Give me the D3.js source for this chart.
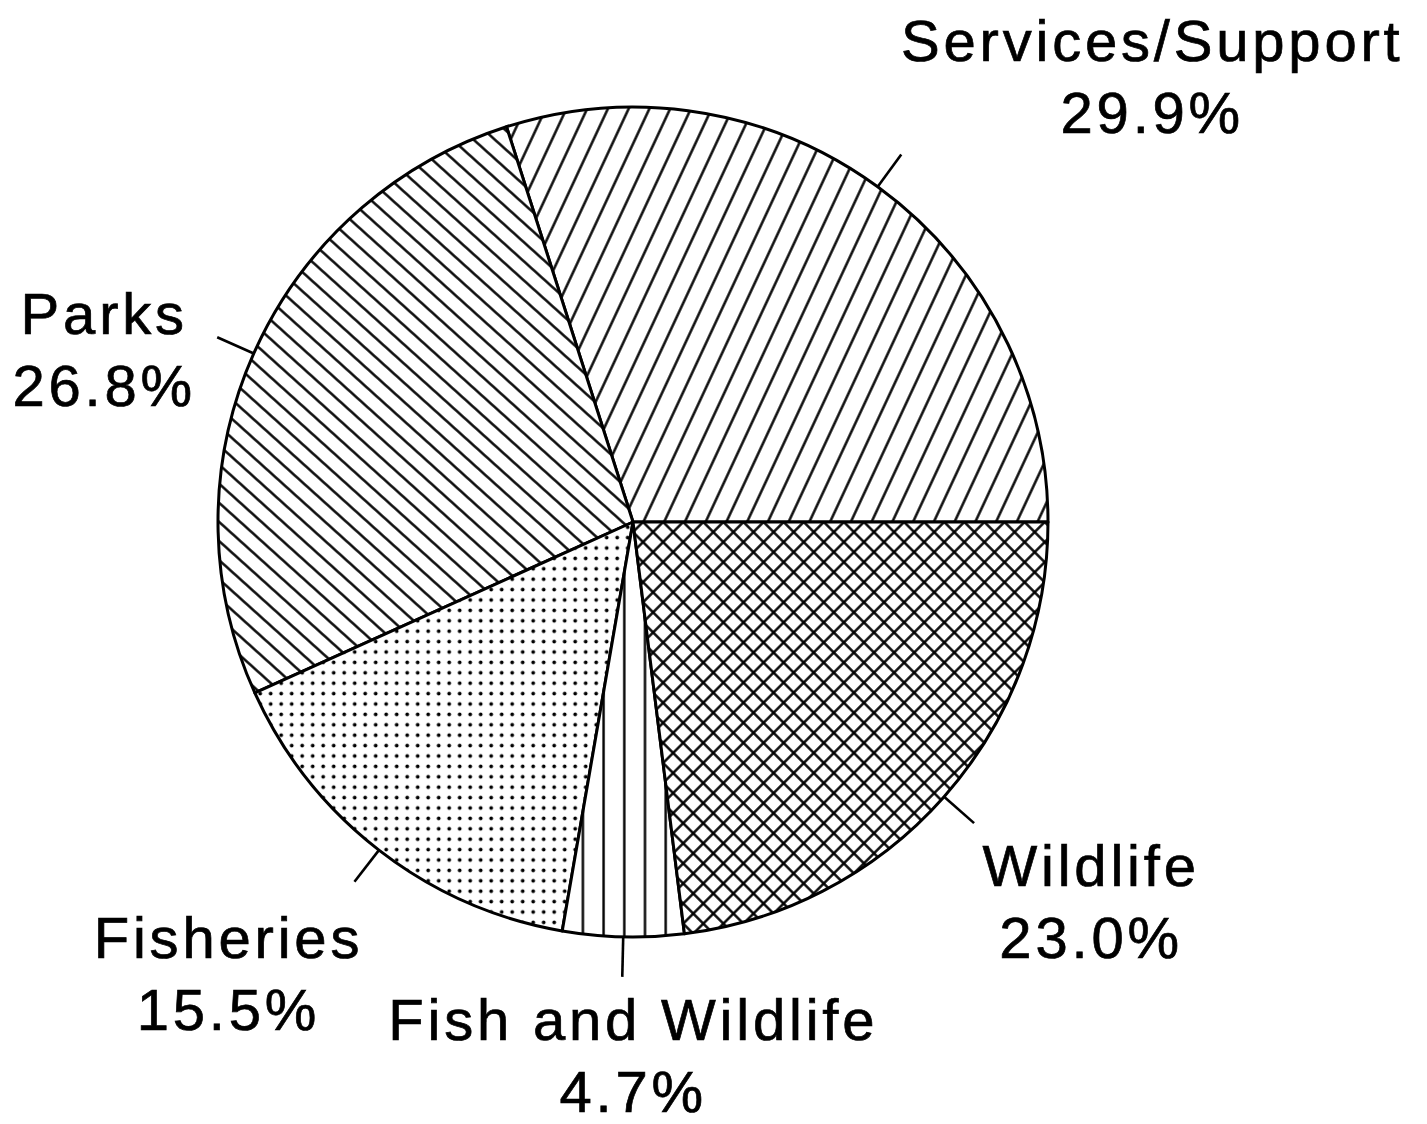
<!DOCTYPE html>
<html>
<head>
<meta charset="utf-8">
<script src="https://cdn.jsdelivr.net/npm/d3@7"></script>
<style>
  html, body { margin: 0; padding: 0; background: #fff; }
  text { font-family: "Liberation Sans", Arial, Helvetica, sans-serif; }
</style>
</head>
<body>
<svg id="pie"></svg>
<script>
// slices (counter-clockwise from 3 o'clock)
var categories = ["Services/Support", "Parks", "Fisheries", "Fish and Wildlife", "Wildlife"];
var shares = [29.9, 26.8, 15.5, 4.7, 23.0];
var shareLabels = ["29.9%", "26.8%", "15.5%", "4.7%", "23.0%"];
var fills = ["hatchUp", "hatchDown", "dots", "vlines", "cross"];

// set the dimensions of the chart
var width = 1427,
    height = 1124;
var cx = 633, cy = 522, radius = 415;
var leaderLen = 40;
// where each label sits relative to the outer end of its leader line
var labelShift = [[251, -93], [-113, -3], [-126, 76], [11, 63], [117, 63]];

var svg = d3.select("#pie")
    .attr("width", width)
    .attr("height", height);

svg.append("rect")
    .attr("width", width)
    .attr("height", height)
    .attr("fill", "#fff");

var defs = svg.append("defs");

// line hatching: a vertical line in a tile, turned by the pattern transform
function linePattern(id, spacing, angle, offsetX){
    var p = defs.append("pattern")
        .attr("id", id)
        .attr("patternUnits", "userSpaceOnUse")
        .attr("x", offsetX || 0)
        .attr("width", spacing)
        .attr("height", 20)
        .attr("patternTransform", "rotate(" + angle + ")");
    p.append("rect").attr("width", spacing).attr("height", 20).attr("fill", "#fff");
    p.append("line")
        .attr("x1", spacing / 2).attr("x2", spacing / 2)
        .attr("y1", -1).attr("y2", 21)
        .attr("stroke", "#000")
        .attr("stroke-width", 2.4);
    return p;
}

linePattern("hatchUp", 18.8, 25);
linePattern("hatchDown", 14.2, -48);
linePattern("vlines", 20.7, 0, cx - 20.7 / 2);

// cross hatching
var cross = defs.append("pattern")
    .attr("id", "cross")
    .attr("patternUnits", "userSpaceOnUse")
    .attr("width", 14.2)
    .attr("height", 14.2)
    .attr("patternTransform", "rotate(45)");
cross.append("rect").attr("width", 14.2).attr("height", 14.2).attr("fill", "#fff");
cross.append("line").attr("x1", 7.1).attr("x2", 7.1).attr("y1", -1).attr("y2", 15.2)
    .attr("stroke", "#000").attr("stroke-width", 2.4);
cross.append("line").attr("y1", 7.1).attr("y2", 7.1).attr("x1", -1).attr("x2", 15.2)
    .attr("stroke", "#000").attr("stroke-width", 2.4);

// stipple
var dots = defs.append("pattern")
    .attr("id", "dots")
    .attr("patternUnits", "userSpaceOnUse")
    .attr("width", 10.5)
    .attr("height", 10.4);
dots.append("rect").attr("width", 10.5).attr("height", 10.4).attr("fill", "#fff");
dots.append("circle").attr("cx", 5.2).attr("cy", 5.2).attr("r", 1.9).attr("fill", "#000");

var pie = d3.pie()
    .sort(null)
    .value(function(d){ return d; })
    .startAngle(Math.PI / 2)
    .endAngle(Math.PI / 2 - 2 * Math.PI);

var arcs = pie(shares);

var arc = d3.arc()
    .innerRadius(0)
    .outerRadius(radius);

var g = svg.append("g")
    .attr("transform", "translate(" + cx + "," + cy + ")");

g.selectAll(".slice")
    .data(arcs)
    .enter().append("path")
    .attr("class", "slice")
    .attr("d", arc)
    .attr("fill", function(d, i){ return "url(#" + fills[i] + ")"; })
    .attr("stroke", "#000")
    .attr("stroke-width", 3)
    .attr("stroke-linejoin", "round");

function midAngle(d){ return (d.startAngle + d.endAngle) / 2; }
function polar(a, r){ return [r * Math.sin(a), -r * Math.cos(a)]; }

// leader lines run out radially from the middle of each slice
g.selectAll(".leader")
    .data(arcs)
    .enter().append("line")
    .attr("class", "leader")
    .attr("x1", function(d){ return polar(midAngle(d), radius)[0]; })
    .attr("y1", function(d){ return polar(midAngle(d), radius)[1]; })
    .attr("x2", function(d){ return polar(midAngle(d), radius + leaderLen)[0]; })
    .attr("y2", function(d){ return polar(midAngle(d), radius + leaderLen)[1]; })
    .attr("stroke", "#000")
    .attr("stroke-width", 2.6);

var labels = g.selectAll(".label")
    .data(arcs)
    .enter().append("text")
    .attr("class", "label")
    .attr("text-anchor", "middle")
    .attr("font-size", 58)
    .attr("letter-spacing", 3.8)
    .attr("fill", "#000")
    .attr("stroke", "#000")
    .attr("stroke-width", 0.7)
    .attr("transform", function(d, i){
        var p = polar(midAngle(d), radius + leaderLen);
        return "translate(" + (p[0] + labelShift[i][0]) + "," + (p[1] + labelShift[i][1]) + ")";
    });

labels.append("tspan")
    .attr("x", 0)
    .attr("y", 0)
    .text(function(d, i){ return categories[i]; });

labels.append("tspan")
    .attr("x", 0)
    .attr("y", 72)
    .text(function(d, i){ return shareLabels[i]; });
</script>
</body>
</html>
